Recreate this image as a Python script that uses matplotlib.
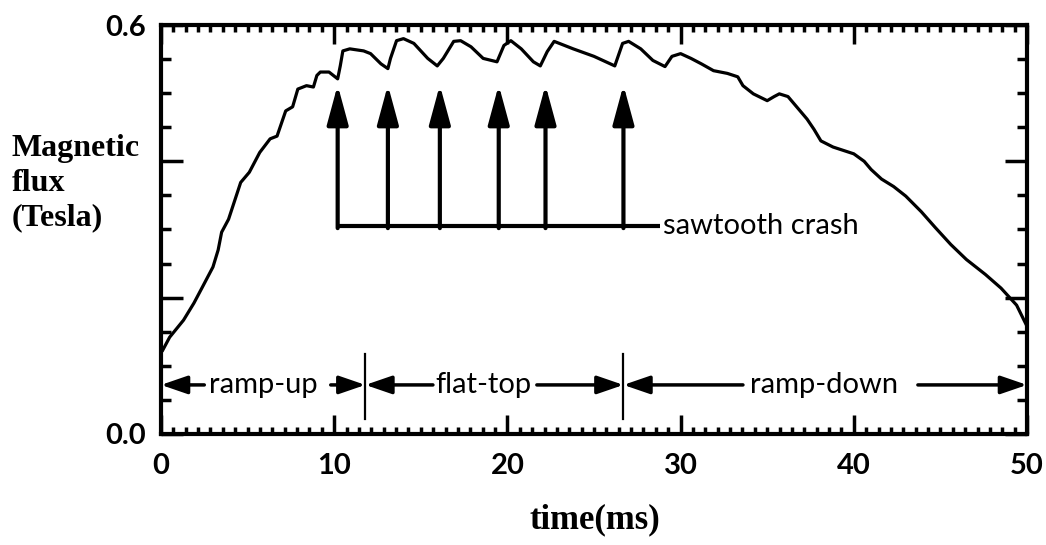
import matplotlib
matplotlib.use("Agg")
import matplotlib.pyplot as plt
import matplotlib.ticker as mticker

# flux trace (time in ms, flux in Tesla)
t_ms = [0.1, 0.5, 1.3, 1.9, 2.4, 3.0, 3.3, 3.5, 3.9, 4.6, 5.1, 5.7, 6.3, 6.7,
        7.2, 7.6, 7.9, 8.4, 8.8, 9.0, 9.2, 9.7, 10.2, 10.35, 10.5, 10.9, 11.7,
        12.1, 12.7, 13.1, 13.25, 13.6, 14.0, 14.6, 15.4, 15.95, 16.3, 16.9,
        17.3, 17.9, 18.6, 19.4, 19.8, 20.2, 20.8, 21.5, 21.9, 22.3, 22.7, 23.8,
        25.0, 26.2, 26.65, 27.0, 27.7, 28.4, 29.1, 29.5, 30.0, 30.6, 31.2,
        31.9, 32.7, 33.3, 33.6, 34.2, 35.0, 35.4, 35.7, 36.2, 36.8, 37.3, 37.7,
        38.1, 38.8, 40.0, 40.6, 41.0, 41.6, 42.3, 43.0, 43.9, 44.7, 45.6, 46.5,
        47.6, 48.5, 49.4, 50.0]
flux = [0.123, 0.142, 0.167, 0.192, 0.216, 0.245, 0.270, 0.296, 0.315, 0.369,
        0.384, 0.413, 0.433, 0.437, 0.474, 0.480, 0.506, 0.511, 0.509, 0.526,
        0.531, 0.531, 0.521, 0.540, 0.562, 0.565, 0.562, 0.558, 0.543, 0.536,
        0.551, 0.577, 0.580, 0.573, 0.551, 0.540, 0.551, 0.576, 0.577, 0.568,
        0.551, 0.546, 0.570, 0.577, 0.565, 0.546, 0.540, 0.561, 0.576, 0.565,
        0.554, 0.540, 0.573, 0.576, 0.565, 0.548, 0.539, 0.554, 0.558, 0.551,
        0.543, 0.533, 0.529, 0.524, 0.511, 0.499, 0.489, 0.495, 0.499, 0.495,
        0.477, 0.462, 0.447, 0.430, 0.421, 0.411, 0.400, 0.388, 0.374, 0.363,
        0.349, 0.326, 0.303, 0.278, 0.256, 0.234, 0.214, 0.189, 0.158]

# sawtooth crash times and the arrow span
crash_t = [10.2, 13.1, 16.1, 19.5, 22.2, 26.7]
crash_base = 0.305
crash_tip = 0.512
crash_bar_end = 28.8

# discharge phases
phase_names = ["ramp-up", "flat-top", "ramp-down"]
phase_start = [0.0, 11.8, 26.7]
phase_end = [11.8, 26.7, 50.0]
phase_text_x = [5.9, 18.6, 38.3]
phase_left_tail = [2.5, 15.7, 33.6]
phase_right_tail = [9.8, 21.7, 43.7]
phase_y = 0.072
divider_x = [11.8, 26.7]

SANS = ["Lato", "DejaVu Sans"]
SERIF = ["Liberation Serif", "DejaVu Serif"]

fig = plt.figure(figsize=(10.46, 5.45), dpi=100)
ax = fig.add_axes([161 / 1046, 1 - 434 / 545, 866 / 1046, 409 / 545])

ax.plot(t_ms, flux, color="black", linewidth=2.3, zorder=3)

# sawtooth crash arrows
arrow_kw = dict(arrowstyle="-|>,head_length=2.4,head_width=0.65",
                mutation_scale=10, color="black", linewidth=3.0,
                shrinkA=0, shrinkB=0)
for tc in crash_t:
    ax.annotate("", xy=(tc, crash_tip), xytext=(tc, crash_base - 0.003),
                arrowprops=arrow_kw)
ax.plot([crash_t[0] - 0.1, crash_bar_end], [crash_base, crash_base],
        color="black", linewidth=3.0, solid_capstyle="butt")
ax.text(crash_bar_end + 0.2, crash_base, "sawtooth crash", family=SANS,
        fontsize=21, ha="left", va="center")

# phase arrows
phase_kw = dict(arrowstyle="-|>,head_length=1.6,head_width=0.55",
                mutation_scale=10, color="black", linewidth=2.5,
                shrinkA=0, shrinkB=0)
for name, x0, x1, xt, lt, rt in zip(phase_names, phase_start, phase_end,
                                    phase_text_x, phase_left_tail,
                                    phase_right_tail):
    ax.annotate("", xy=(x0, phase_y), xytext=(lt, phase_y), arrowprops=phase_kw)
    ax.annotate("", xy=(x1, phase_y), xytext=(rt, phase_y), arrowprops=phase_kw)
    ax.text(xt, phase_y, name, family=SANS, fontsize=21, ha="center",
            va="center")
for dx in divider_x:
    ax.plot([dx, dx], [0.022, 0.118], color="black", linewidth=1.6)

ax.set_xlim(0, 50)
ax.set_ylim(0, 0.6)

ax.xaxis.set_major_locator(mticker.MultipleLocator(10))
ax.xaxis.set_minor_locator(mticker.MultipleLocator(10 / 14))
ax.set_yticks([0.0, 0.2, 0.4, 0.6])
ax.set_yticklabels(["0.0", "", "", "0.6"])
ax.yaxis.set_minor_locator(mticker.MultipleLocator(0.05))

for sp in ax.spines.values():
    sp.set_linewidth(3.0)

ax.tick_params(which="both", direction="in", top=True, right=True,
               width=2.5, color="black")
ax.tick_params(axis="x", which="major", length=14, pad=14)
ax.tick_params(axis="x", which="minor", length=5)
ax.tick_params(axis="y", which="major", length=16, pad=11)
ax.tick_params(axis="y", which="minor", length=7)
for lab in ax.get_xticklabels() + ax.get_yticklabels():
    lab.set_family(SANS)
    lab.set_fontsize(21)
    lab.set_fontweight("bold")

fig.text(12 / 1046, 1 - 183 / 545, "Magnetic\nflux\n(Tesla)", family=SERIF,
         fontweight="bold", fontsize=23, ha="left", va="center",
         multialignment="left", linespacing=1.25)
fig.text(595 / 1046, 1 - 520 / 545, "time(ms)", family=SERIF,
         fontweight="bold", fontsize=25, ha="center", va="center")

fig.savefig("out.png", dpi=100)
